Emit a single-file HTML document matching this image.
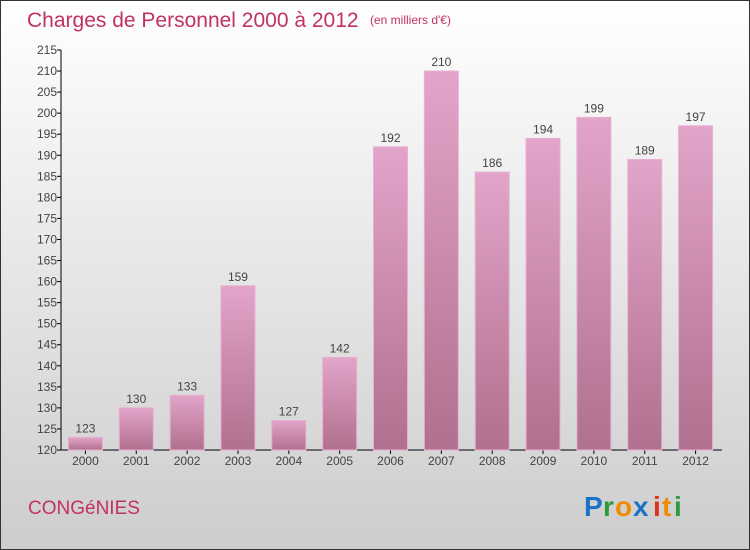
<!DOCTYPE html>
<html><head><meta charset="utf-8"><style>
body{margin:0}
svg{display:block}
text{font-family:"Liberation Sans",sans-serif}
</style></head><body>
<svg id="c" width="750" height="550" xmlns="http://www.w3.org/2000/svg">
<defs>
<linearGradient id="bg" x1="0" y1="0" x2="0" y2="1"><stop offset="0" stop-color="#ffffff"/><stop offset="1" stop-color="#cdcdcd"/></linearGradient>
<linearGradient id="bar" x1="0" y1="0" x2="0" y2="1"><stop offset="0" stop-color="#e2a4c9"/><stop offset="1" stop-color="#b0708f"/></linearGradient>
</defs>
<rect x="0.5" y="0.5" width="749" height="549" fill="url(#bg)" stroke="#333"/>
<text x="27" y="27" font-size="21" fill="#c2325f" font-weight="300">Charges de Personnel 2000 à 2012</text>
<text x="370" y="24" font-size="12" fill="#c2325f">(en milliers d'€)</text>
<text x="28" y="514" font-size="19" fill="#c2325f" font-weight="300">CONGéNIES</text>
<g font-size="28" font-weight="bold">
<text x="584" y="516" fill="#1a73c8">P</text><text x="603" y="516" fill="#2a9a3a">r</text><text x="615" y="516" fill="#f08a00">o</text><text x="633" y="516" fill="#1a73c8">x</text><text x="653" y="516" fill="#e03020">i</text><text x="662" y="516" fill="#f08a00">t</text><text x="674" y="516" fill="#2a9a3a">i</text>
</g>
<g id="axes"></g><g id="bars"></g>
</svg>
<script>
const categories=["2000","2001","2002","2003","2004","2005","2006","2007","2008","2009","2010","2011","2012"];
const values=[123,130,133,159,127,142,192,210,186,194,199,189,197];
const yTicks=[120,125,130,135,140,145,150,155,160,165,170,175,180,185,190,195,200,205,210,215];
const NS="http://www.w3.org/2000/svg";
const x0=61,x1=722,yB=450,yT=50,vMin=120,vMax=215;
const y=v=>yB-(v-vMin)/(vMax-vMin)*(yB-yT);
const step=(x1-x0)/categories.length;
const xc=i=>x0+step*(i+0.5)-1;
function mk(t,a,p){const e=document.createElementNS(NS,t);for(const k in a)e.setAttribute(k,a[k]);p.appendChild(e);return e;}
const ax=document.getElementById('axes'),bg=document.getElementById('bars');
let l=mk('line',{x1:x0,y1:yT,x2:x0,y2:yB,stroke:'#000'},ax);


l=mk('line',{x1:x0,y1:yB,x2:x1,y2:yB,stroke:'#000'},ax);


yTicks.forEach(v=>{
 mk('line',{x1:x0-4,y1:y(v),x2:x0,y2:y(v),stroke:'#000'},ax);
 const t=mk('text',{x:x0-4,y:y(v)+4,'font-size':12,'text-anchor':'end',fill:'#444'},ax);
 t.textContent=v;
 
 
});
categories.forEach((c,i)=>{
 const cx=xc(i),w=34;
 const r=mk('rect',{x:cx-w/2,y:y(values[i]),width:w,height:yB-y(values[i]),fill:'url(#bar)',stroke:'#e8b0d2','stroke-width':1},bg);
 
 
 const vt=mk('text',{x:cx,y:y(values[i])-5,'font-size':12,'text-anchor':'middle',fill:'#444'},bg);
 vt.textContent=values[i];
 
 
 mk('line',{x1:cx,y1:yB,x2:cx,y2:yB+4,stroke:'#000'},ax);
 const xt=mk('text',{x:cx,y:yB+15,'font-size':12,'text-anchor':'middle',fill:'#444'},ax);
 xt.textContent=c;
 
 
});
</script>
</body></html>
